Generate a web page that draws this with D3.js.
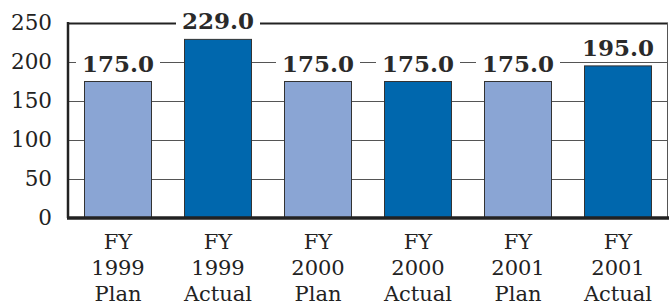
<!DOCTYPE html>
<html>
<head>
<meta charset="utf-8">
<script src="https://cdn.jsdelivr.net/npm/d3@7"></script>
<style>
  body { margin: 0; background: #fff; overflow: hidden; }
  svg { display: block; }
</style>
</head>
<body>
<svg width="669" height="307"></svg>
<script>
const categories = ['FY 1999 Plan', 'FY 1999 Actual', 'FY 2000 Plan', 'FY 2000 Actual', 'FY 2001 Plan', 'FY 2001 Actual']
const values = [175.0, 229.0, 175.0, 175.0, 175.0, 195.0]
const kinds = ['Plan', 'Actual', 'Plan', 'Actual', 'Plan', 'Actual']
const yTicks = [0, 50, 100, 150, 200, 250]

const svg = d3.select('svg')
const margin = { top: 23, right: 1, bottom: 89, left: 68 }
const width = +svg.attr('width')
const height = +svg.attr('height')
const innerWidth = width - margin.left - margin.right
const innerHeight = height - margin.top - margin.bottom

const color = { Plan: '#8aa5d4', Actual: '#0067ad' }

const xScale = d3.scaleBand()
  .domain(categories)
  .range([0, innerWidth])
  .paddingInner(0.33)
  .paddingOuter(0.165)

const yScale = d3.scaleLinear()
  .domain([0, 250])
  .range([innerHeight, 0])

const g = svg.append('g')
  .attr('transform', `translate(${margin.left}, ${margin.top})`)

// gridlines + y tick labels
const yAxis = d3.axisLeft(yScale)
  .tickValues(yTicks)
  .tickSize(-innerWidth)
  .tickPadding(16)

const yAxisG = g.append('g').call(yAxis)
yAxisG.select('.domain').remove()
yAxisG.selectAll('line')
  .attr('stroke', d => d === 250 ? '#222' : '#555')
  .attr('stroke-width', d => d === 250 ? 2 : 1)
yAxisG.selectAll('text')
  .attr('font-family', '"DejaVu Serif", serif')
  .attr('font-size', 21.5)
  .attr('fill', '#222')

// right border
g.append('line')
  .attr('x1', innerWidth - 0.5).attr('x2', innerWidth - 0.5)
  .attr('y1', 0).attr('y2', innerHeight)
  .attr('stroke', '#555')

// bars
g.selectAll('rect.bar').data(values)
  .enter().append('rect')
  .attr('class', 'bar')
  .attr('x', (d, i) => xScale(categories[i]))
  .attr('y', d => yScale(d))
  .attr('width', xScale.bandwidth())
  .attr('height', d => innerHeight - yScale(d))
  .attr('fill', (d, i) => color[kinds[i]])
  .attr('stroke', '#333')
  .attr('stroke-width', 1)

// value labels with white backing
const labels = g.selectAll('g.lbl').data(values)
  .enter().append('g')
  .attr('class', 'lbl')
  .attr('transform', (d, i) =>
    `translate(${xScale(categories[i]) + xScale.bandwidth() / 2}, ${yScale(d) - 10})`)

labels.append('rect')
  .attr('x', -42)
  .attr('y', -20)
  .attr('width', 84)
  .attr('height', 22)
  .attr('fill', '#fff')

labels.append('text')
  .attr('text-anchor', 'middle')
  .attr('font-family', '"DejaVu Serif", serif')
  .attr('font-weight', 'bold')
  .attr('font-size', 23)
  .attr('fill', '#2a2a2a')
  .text(d => d.toFixed(1))

// left axis
g.append('line')
  .attr('x1', 0).attr('x2', 0)
  .attr('y1', -1).attr('y2', innerHeight)
  .attr('stroke', '#222')
  .attr('stroke-width', 2.5)

// bottom axis
const xAxis = d3.axisBottom(xScale).tickSize(0).tickPadding(0)
const xAxisG = g.append('g')
  .attr('transform', `translate(0, ${innerHeight})`)
  .call(xAxis)
xAxisG.select('.domain')
  .attr('d', `M-1,0H${innerWidth + 1}`)
  .attr('stroke', '#222')
  .attr('stroke-width', 3.5)

// three-line category labels, one text per line
xAxisG.selectAll('.tick').each(function (d) {
  const tick = d3.select(this)
  tick.select('text').remove()
  d.split(' ').forEach((p, k) => {
    tick.append('text')
      .attr('x', 0)
      .attr('y', 31 + k * 26)
      .attr('text-anchor', 'middle')
      .attr('font-family', '"DejaVu Serif", serif')
      .attr('font-size', 21)
      .attr('fill', '#222')
      .text(p)
  })
})
</script>
</body>
</html>
